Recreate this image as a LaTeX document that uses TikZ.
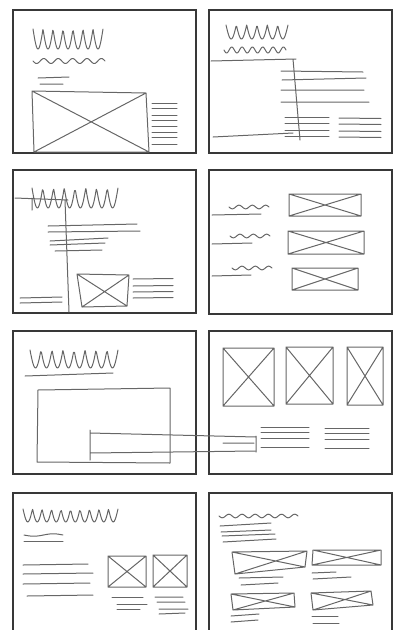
\documentclass[tikz,border=0pt]{standalone}
% hand drawn scribbles
\newcommand{\scrib}[5]{% x, y, width, height, humps
  \draw[pencil] plot[domain=0:#5,samples=100,smooth]
    ({#1+#3*\x/#5},{#2+#4*abs(sin(180*\x))});}
\newcommand{\wavy}[5]{% x, y, width, amplitude, waves
  \draw[pencil] plot[domain=0:#5,samples=80,smooth]
    ({#1+#3*\x/#5},{#2+#4*sin(360*\x)});}
\newcommand{\xbox}[4]{\draw[pencil] #1 -- #2 -- #3 -- #4 -- cycle #1 -- #3 #2 -- #4;}
\begin{document}
\begin{tikzpicture}[x=1pt,y=-1pt,
  frame/.style={draw=black!78,line width=1.5pt},
  pencil/.style={draw=black!60,line width=1pt,line cap=round,line join=round}]
  \useasboundingbox (0,0) rectangle (396,630);
  % Panel frames
  \draw[frame] (13,10) rectangle (196,153);
  \draw[frame] (209,10) rectangle (392,153);
  \draw[frame] (13,170) rectangle (196,313);
  \draw[frame] (209,170) rectangle (392,314);
  \draw[frame] (13,331) rectangle (196,474);
  \draw[frame] (209,331) rectangle (392,474);
  \draw[frame] (13,630) -- (13,493) -- (196,493) -- (196,630);
  \draw[frame] (209,630) -- (209,493) -- (392,493) -- (392,630);
  % Panel 1
  \scrib{33}{29}{70}{20}{7}
  \wavy{33}{61}{72}{2.5}{5}
  \draw[pencil] (38,78) -- (69,77) (40,84) -- (63,84);
  \xbox{(32,91)}{(146,93)}{(149,152)}{(34,152)}
  \foreach \y in {103,108,115,120,126,132,137,144}
    \draw[pencil] (152,\y) -- (177,\y);
  % Panel 2
  \scrib{226}{25}{62}{14}{6}
  \wavy{224}{50}{62}{3}{6}
  \draw[pencil] (211,61) -- (296,59) (293,59) -- (300,140);
  \draw[pencil] (281,71) -- (363,72) (282,80) -- (366,78)
    (281,90) -- (364,90) (281,102) -- (369,102);
  \foreach \y in {117,123,130,136} {
    \draw[pencil] (285,\y) -- (329,\y);
    \draw[pencil] (339,\y+1) -- (381,\y+1.5);
  }
  \draw[pencil] (213,137) -- (293,133);
  % Panel 3
  \scrib{32}{188}{86}{20}{8}
  \draw[pencil] (15,198) -- (68,200) (32,198) -- (32,210) (65,200) -- (69,312);
  \draw[pencil] (48,226) -- (137,224) (48,232) -- (140,231)
    (50,241) -- (108,238) (50,245) -- (105,243) (55,251) -- (102,250);
  \draw[pencil] (20,298) -- (62,297) (20,303) -- (62,302);
  \xbox{(77,274)}{(129,275)}{(127,306)}{(82,307)}
  \foreach \y in {279,286,292,298}
    \draw[pencil] (133,\y) -- (173,\y-0.5);
  % Panel 4
  \foreach \y/\l/\d in {207/261/0,236/252/1,268/251/3} {
    \wavy{229+\d}{\y}{40}{1.8}{3}
    \draw[pencil] (212,\y+8) -- (\l,\y+7);
  }
  \xbox{(289,194)}{(361,194)}{(361,216)}{(289,216)}
  \xbox{(288,231)}{(364,231)}{(364,254)}{(288,254)}
  \xbox{(292,268)}{(358,268)}{(358,290)}{(292,290)}
  % Panel 5
  \scrib{30}{350}{88}{18}{8}
  \draw[pencil] (25,376) -- (113,373);
  \draw[pencil] (38,390) -- (170,388) -- (170,463) -- (37,462) -- cycle;
  % strip reaching over to panel 6
  \draw[pencil] (90,430) -- (90,460) (90,433) -- (256,437)
    (90,453) -- (255,451) (223,443) -- (254,443) (256,436) -- (256,452);
  % Panel 6
  \xbox{(223,348)}{(274,348)}{(274,406)}{(223,406)}
  \xbox{(286,347)}{(333,347)}{(333,404)}{(286,404)}
  \xbox{(347,347)}{(383,347)}{(383,405)}{(347,405)}
  \foreach \y in {427,432,438,447} {
    \draw[pencil] (261,\y) -- (309,\y);
    \draw[pencil] (325,\y+1) -- (369,\y+1);
  }
  % Panel 7
  \scrib{23}{509}{95}{13}{10}
  \wavy{24}{535}{39}{1.2}{1}
  \draw[pencil] (24,541) -- (63,541);
  \draw[pencil] (23,565) -- (88,564) (23,574) -- (93,573)
    (23,584) -- (90,583) (27,596) -- (93,595);
  \xbox{(108,556)}{(146,556)}{(146,587)}{(108,587)}
  \xbox{(153,555)}{(187,555)}{(187,587)}{(153,587)}
  \draw[pencil] (112,597) -- (143,597) (117,604) -- (147,604) (117,609) -- (140,609);
  \draw[pencil] (155,597) -- (183,597) (157,602) -- (185,602)
    (159,609) -- (188,609) (159,614) -- (185,613);
  % Panel 8
  \wavy{219}{516}{79}{1.8}{6}
  \draw[pencil] (220,526) -- (271,523) (221,532) -- (271,530)
    (222,536) -- (275,534) (223,542) -- (276,539);
  \xbox{(232,552)}{(307,551)}{(305,567)}{(235,574)}
  \xbox{(313,550)}{(381,550)}{(381,565)}{(312,565)}
  \draw[pencil] (239,578) -- (283,577) (241,585) -- (278,583);
  \draw[pencil] (312,573) -- (336,572) (313,579) -- (351,577);
  \xbox{(231,594)}{(294,593)}{(295,607)}{(233,610)}
  \xbox{(311,593)}{(371,591)}{(373,605)}{(313,610)}
  \draw[pencil] (231,616) -- (259,614) (231,622) -- (258,620);
  \draw[pencil] (312,616) -- (338,616) (313,623) -- (339,623);
\end{tikzpicture}
\end{document}
